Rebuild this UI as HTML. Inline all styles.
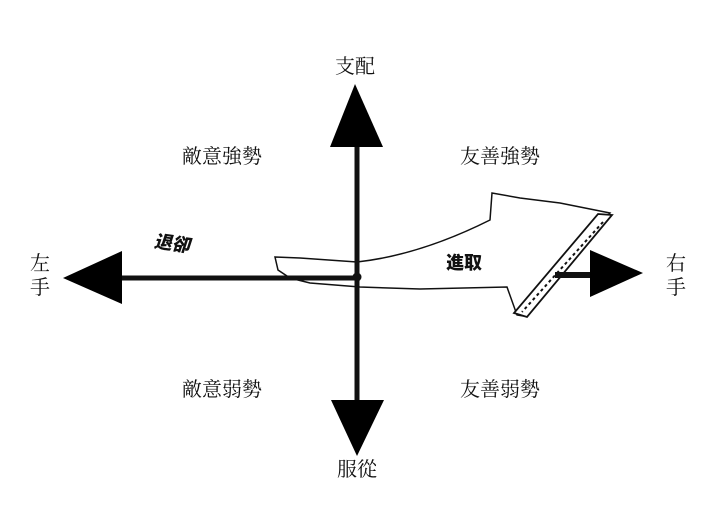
<!DOCTYPE html>
<html><head><meta charset="utf-8"><style>
body{margin:0;background:#fff;}
svg{display:block}
.t{font-family:"Liberation Serif","Noto Serif CJK SC",serif;font-size:20px;fill:#111;text-anchor:middle;dominant-baseline:central}
.b{font-family:"Liberation Sans","Noto Sans CJK SC",sans-serif;font-size:18px;font-weight:900;fill:#111;text-anchor:middle;dominant-baseline:central}
</style></head><body>
<svg width="713" height="521" viewBox="0 0 713 521">
<path d="M275,257 L300,258 L357,262 Q420,255 490,220 L492,193 L520,198 L560,203 L610,213 L523,316 L517,315 L507,287 L420,289 L360,287 L310,283 L290,278 L278,270 Z" fill="#fff" stroke="#111" stroke-width="1.5"/>
<path d="M598,214 L612,215 L527,317 L514,313 Z" fill="#fff" stroke="#111" stroke-width="1.8"/>
<path d="M603,222 L522,312" stroke="#111" stroke-width="2" stroke-dasharray="3,3"/>
<line x1="118" y1="278" x2="357" y2="278" stroke="#111" stroke-width="5"/>
<line x1="555" y1="275" x2="595" y2="275" stroke="#111" stroke-width="6"/>
<line x1="357" y1="140" x2="357" y2="405" stroke="#111" stroke-width="5"/>
<circle cx="357" cy="277" r="4.5" fill="#111"/>
<polygon points="63,278 122,251 122,304" fill="#000"/>
<polygon points="643,273 590,250 590,297" fill="#000"/>
<polygon points="355,84 330,147 383,147" fill="#000"/>
<polygon points="357,456 331,400 384,400" fill="#000"/>
<text class="t" x="355" y="67">支配</text>
<text class="t" x="357" y="470">服從</text>
<text class="t" x="40" y="264">左</text>
<text class="t" x="40" y="288">手</text>
<text class="t" x="676" y="264">右</text>
<text class="t" x="676" y="288">手</text>
<text class="t" x="222" y="157">敵意強勢</text>
<text class="t" x="500" y="157">友善強勢</text>
<text class="t" x="222" y="390">敵意弱勢</text>
<text class="t" x="500" y="390">友善弱勢</text>
<text class="b" x="217" y="250" transform="rotate(8 217 250) skewX(-10)">退卻</text>
<text class="b" x="464" y="263">進取</text>
</svg>
</body></html>
